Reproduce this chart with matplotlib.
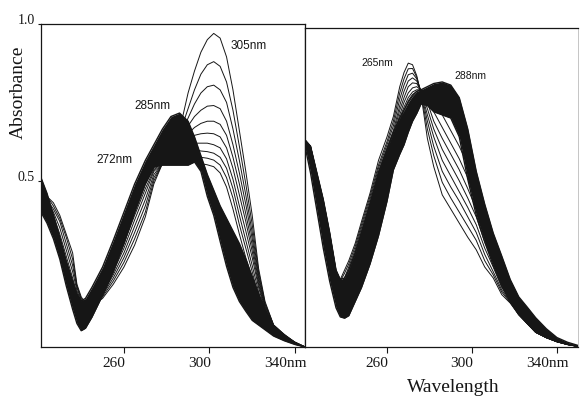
import matplotlib
matplotlib.use("Agg")
import matplotlib.pyplot as plt
from matplotlib.transforms import ScaledTranslation

# --- left panel: wavelength grid, dense band envelope and the fan of spectra
WL_L = [221.2, 224, 227, 230, 233, 236, 238, 240, 242, 245, 250, 255, 260, 265, 270, 274, 278, 282,
        286, 290, 293, 296, 299, 302, 305, 308, 311, 314, 317, 320, 323, 326, 330, 335, 340, 344.7]
BAND_HI_L = [0.51, 0.46, 0.39, 0.32, 0.245, 0.18, 0.14, 0.117, 0.125, 0.16, 0.225, 0.31, 0.40, 0.49, 0.565,
             0.615, 0.665, 0.705, 0.716, 0.69, 0.64, 0.58, 0.52, 0.47, 0.42, 0.38, 0.34, 0.30, 0.25, 0.195,
             0.14, 0.09, 0.035, 0.005, -0.015, -0.03]
BAND_LO_L = [0.40, 0.365, 0.315, 0.25, 0.165, 0.09, 0.045, 0.022, 0.03, 0.065, 0.135, 0.21, 0.30, 0.40, 0.49,
             0.545, 0.55, 0.55, 0.55, 0.55, 0.56, 0.53, 0.45, 0.39, 0.307, 0.227, 0.16, 0.115, 0.084, 0.055,
             0.04, 0.025, 0.005, -0.01, -0.022, -0.03]
FAN_L = [
    [0.48, 0.45, 0.43, 0.39, 0.33, 0.27, 0.17, 0.13, 0.11, 0.10, 0.125, 0.17, 0.225, 0.295, 0.385, 0.49, 0.555, 0.565,
     0.66, 0.78, 0.85, 0.91, 0.95, 0.97, 0.955, 0.895, 0.79, 0.66, 0.53, 0.39, 0.22, 0.115, 0.04, 0.01, -0.015, -0.03],
    [0.48, 0.45, 0.42, 0.38, 0.32, 0.25, 0.165, 0.125, 0.105, 0.10, 0.13, 0.18, 0.24, 0.315, 0.40, 0.50, 0.555, 0.565,
     0.65, 0.73, 0.79, 0.84, 0.87, 0.88, 0.865, 0.815, 0.725, 0.61, 0.49, 0.36, 0.21, 0.11, 0.04, 0.01, -0.015, -0.03],
    [0.47, 0.44, 0.41, 0.37, 0.30, 0.23, 0.16, 0.12, 0.10, 0.10, 0.135, 0.19, 0.255, 0.335, 0.42, 0.51, 0.555, 0.565,
     0.64, 0.70, 0.745, 0.78, 0.80, 0.805, 0.79, 0.75, 0.665, 0.565, 0.455, 0.335, 0.20, 0.105, 0.04, 0.008, -0.015, -0.03],
    [0.47, 0.44, 0.40, 0.35, 0.28, 0.21, 0.15, 0.115, 0.10, 0.10, 0.14, 0.20, 0.27, 0.355, 0.44, 0.52, 0.555, 0.57,
     0.63, 0.675, 0.705, 0.725, 0.738, 0.74, 0.73, 0.69, 0.615, 0.525, 0.425, 0.315, 0.19, 0.10, 0.038, 0.006, -0.016, -0.03],
    [0.46, 0.43, 0.39, 0.33, 0.26, 0.19, 0.14, 0.11, 0.10, 0.105, 0.15, 0.21, 0.285, 0.375, 0.46, 0.53, 0.555, 0.57,
     0.62, 0.65, 0.67, 0.683, 0.69, 0.69, 0.68, 0.645, 0.575, 0.49, 0.395, 0.295, 0.18, 0.095, 0.035, 0.004, -0.017, -0.03],
    [0.46, 0.42, 0.37, 0.31, 0.24, 0.17, 0.125, 0.105, 0.10, 0.11, 0.16, 0.225, 0.30, 0.39, 0.475, 0.535, 0.56, 0.575,
     0.615, 0.635, 0.645, 0.65, 0.652, 0.65, 0.64, 0.605, 0.54, 0.455, 0.37, 0.275, 0.17, 0.09, 0.032, 0.002, -0.018, -0.03],
    [0.45, 0.41, 0.36, 0.29, 0.22, 0.15, 0.11, 0.095, 0.095, 0.115, 0.17, 0.24, 0.32, 0.41, 0.49, 0.54, 0.56, 0.58,
     0.61, 0.62, 0.62, 0.62, 0.62, 0.615, 0.605, 0.57, 0.505, 0.42, 0.34, 0.255, 0.16, 0.085, 0.03, 0.0, -0.018, -0.03],
    [0.45, 0.40, 0.35, 0.28, 0.20, 0.13, 0.09, 0.075, 0.08, 0.11, 0.175, 0.25, 0.335, 0.425, 0.50, 0.545, 0.565, 0.585,
     0.605, 0.605, 0.60, 0.595, 0.593, 0.588, 0.575, 0.54, 0.475, 0.39, 0.31, 0.23, 0.145, 0.075, 0.028, 0.0, -0.019, -0.03],
    [0.44, 0.39, 0.34, 0.27, 0.19, 0.115, 0.075, 0.06, 0.065, 0.10, 0.175, 0.255, 0.345, 0.435, 0.51, 0.55, 0.57, 0.59,
     0.60, 0.59, 0.58, 0.575, 0.572, 0.566, 0.55, 0.51, 0.445, 0.36, 0.285, 0.21, 0.13, 0.068, 0.025, -0.002, -0.02, -0.03],
    [0.44, 0.38, 0.33, 0.26, 0.18, 0.105, 0.065, 0.05, 0.055, 0.09, 0.17, 0.255, 0.35, 0.44, 0.515, 0.555, 0.575, 0.595,
     0.595, 0.58, 0.565, 0.555, 0.551, 0.545, 0.525, 0.48, 0.41, 0.33, 0.255, 0.19, 0.12, 0.06, 0.023, -0.004, -0.02, -0.03],
]

# --- right panel
WL_R = [221.4, 224, 227, 230, 233, 236, 238, 240, 242, 245, 248, 252, 256, 260, 263, 266, 268, 270, 272, 274,
        276, 279, 282, 286, 290, 294, 298, 302, 306, 310, 314, 318, 322, 326, 330, 335, 340, 345, 349.9]
BAND_HI_R = [0.63, 0.61, 0.525, 0.44, 0.335, 0.215, 0.185, 0.19, 0.215, 0.27, 0.335, 0.425, 0.525, 0.60, 0.655,
             0.70, 0.725, 0.75, 0.77, 0.785, 0.79, 0.80, 0.81, 0.815, 0.805, 0.765, 0.665, 0.53, 0.425, 0.333,
             0.26, 0.185, 0.13, 0.097, 0.063, 0.028, 0.0, -0.015, -0.025]
BAND_LO_R = [0.61, 0.525, 0.405, 0.285, 0.18, 0.095, 0.066, 0.062, 0.07, 0.115, 0.16, 0.235, 0.325, 0.435, 0.535,
             0.585, 0.615, 0.655, 0.69, 0.715, 0.745, 0.74, 0.72, 0.71, 0.70, 0.64, 0.505, 0.39, 0.305, 0.23,
             0.165, 0.115, 0.073, 0.045, 0.017, 0.0, -0.013, -0.022, -0.028]
FAN_R = [
    [0.63, 0.61, 0.525, 0.44, 0.335, 0.215, 0.185, 0.215, 0.245, 0.30, 0.37, 0.46, 0.565, 0.64, 0.705, 0.80, 0.845,
     0.875, 0.87, 0.835, 0.775, 0.635, 0.545, 0.455, 0.41, 0.365, 0.32, 0.28, 0.225, 0.19, 0.137, 0.11, 0.073,
     0.045, 0.017, 0.0, -0.013, -0.022, -0.028],
    [0.63, 0.61, 0.52, 0.435, 0.33, 0.21, 0.18, 0.205, 0.235, 0.29, 0.36, 0.45, 0.55, 0.625, 0.69, 0.78, 0.825,
     0.857, 0.858, 0.83, 0.78, 0.665, 0.58, 0.495, 0.445, 0.40, 0.355, 0.31, 0.245, 0.20, 0.145, 0.112, 0.074,
     0.045, 0.017, 0.0, -0.013, -0.022, -0.028],
    [0.63, 0.61, 0.515, 0.43, 0.32, 0.20, 0.17, 0.19, 0.225, 0.28, 0.35, 0.44, 0.54, 0.615, 0.675, 0.76, 0.805,
     0.838, 0.843, 0.825, 0.785, 0.69, 0.61, 0.53, 0.48, 0.435, 0.385, 0.335, 0.265, 0.21, 0.152, 0.114, 0.075,
     0.045, 0.017, 0.0, -0.013, -0.022, -0.028],
    [0.63, 0.60, 0.51, 0.42, 0.31, 0.19, 0.16, 0.18, 0.215, 0.27, 0.34, 0.43, 0.53, 0.605, 0.66, 0.74, 0.785,
     0.818, 0.828, 0.818, 0.787, 0.71, 0.64, 0.565, 0.515, 0.465, 0.415, 0.36, 0.285, 0.225, 0.16, 0.117, 0.076,
     0.045, 0.017, 0.0, -0.013, -0.022, -0.028],
    [0.62, 0.60, 0.505, 0.41, 0.30, 0.18, 0.15, 0.17, 0.205, 0.265, 0.33, 0.425, 0.52, 0.595, 0.65, 0.725, 0.765,
     0.80, 0.812, 0.81, 0.788, 0.73, 0.665, 0.60, 0.55, 0.50, 0.445, 0.385, 0.305, 0.24, 0.17, 0.12, 0.078,
     0.046, 0.017, 0.0, -0.013, -0.022, -0.028],
    [0.62, 0.59, 0.495, 0.40, 0.29, 0.17, 0.135, 0.155, 0.195, 0.255, 0.325, 0.42, 0.515, 0.59, 0.64, 0.71, 0.75,
     0.78, 0.796, 0.80, 0.789, 0.75, 0.69, 0.635, 0.585, 0.535, 0.475, 0.41, 0.325, 0.255, 0.18, 0.125, 0.08,
     0.047, 0.017, 0.0, -0.013, -0.022, -0.028],
    [0.62, 0.58, 0.485, 0.39, 0.28, 0.16, 0.12, 0.14, 0.18, 0.245, 0.32, 0.415, 0.51, 0.585, 0.635, 0.70, 0.735,
     0.765, 0.783, 0.79, 0.79, 0.77, 0.72, 0.67, 0.62, 0.57, 0.51, 0.44, 0.35, 0.27, 0.19, 0.13, 0.085,
     0.05, 0.018, 0.0, -0.013, -0.022, -0.028],
    [0.61, 0.57, 0.475, 0.38, 0.27, 0.15, 0.105, 0.12, 0.165, 0.235, 0.31, 0.41, 0.505, 0.58, 0.63, 0.69, 0.725,
     0.755, 0.775, 0.785, 0.79, 0.785, 0.75, 0.71, 0.66, 0.61, 0.55, 0.47, 0.375, 0.29, 0.205, 0.14, 0.09,
     0.055, 0.02, 0.0, -0.013, -0.022, -0.028],
]

X_TICKS = [260, 300, 340]
X_TICK_LABELS = ["260", "300", "340nm"]
Y_TICKS = [0.5, 1.0]
Y_TICK_LABELS = ["0.5", "1.0"]

PEAKS_L = [("305nm", 318.5, 0.93), ("285nm", 273.2, 0.738), ("272nm", 255.8, 0.566)]
PEAKS_R = [("265nm", 255.3, 0.876), ("288nm", 299.5, 0.834)]

ink = "#161616"
serif = ["Liberation Serif", "DejaVu Serif"]
sans = ["Liberation Sans", "DejaVu Sans"]

fig = plt.figure(figsize=(5.8, 3.98), dpi=100)
ax_l = fig.add_axes([41 / 580, 51 / 398, 264 / 580, 323 / 398])
ax_r = fig.add_axes([305 / 580, 51 / 398, 273 / 580, 319 / 398])

for ax, wl, lo, hi, fan in [(ax_l, WL_L, BAND_LO_L, BAND_HI_L, FAN_L),
                            (ax_r, WL_R, BAND_LO_R, BAND_HI_R, FAN_R)]:
    ax.fill_between(wl, lo, hi, color=ink, lw=0)
    ax.plot(wl, lo, color=ink, lw=1.0)
    ax.plot(wl, hi, color=ink, lw=1.0)
    for curve in fan:
        ax.plot(wl, curve, color=ink, lw=0.7)
    for side in ax.spines.values():
        side.set_linewidth(0.9)
        side.set_color(ink)
    ax.set_xticks(X_TICKS, X_TICK_LABELS, fontfamily=serif, fontsize=11)
    ax.tick_params(axis="x", direction="out", length=4.5, width=0.8, pad=2.5, colors=ink)
    shift = ScaledTranslation(-10 / 100, 0, fig.dpi_scale_trans)
    for lab in ax.get_xticklabels():
        lab.set_transform(lab.get_transform() + shift)

ax_l.set_xlim(221.2, 344.7)
ax_l.set_ylim(-0.03, 1.0)
ax_r.set_xlim(221.4, 349.9)
ax_r.set_ylim(-0.03, 0.987)

ax_l.set_yticks(Y_TICKS, Y_TICK_LABELS, fontfamily=serif, fontsize=10)
ax_l.tick_params(axis="y", direction="out", length=2.5, width=0.8, pad=2, colors=ink)
up = ScaledTranslation(0, 5 / 100, fig.dpi_scale_trans)
for lab in ax_l.get_yticklabels():
    lab.set_transform(lab.get_transform() + up)
ax_r.set_yticks([])
ax_r.spines["right"].set_color("#bbbbbb")
ax_r.spines["right"].set_linewidth(0.6)

for text, x, y in PEAKS_L:
    ax_l.text(x, y, text, ha="center", va="center", fontfamily=sans, fontsize=8.5, color=ink)
for text, x, y in PEAKS_R:
    ax_r.text(x, y, text, ha="center", va="center", fontfamily=sans, fontsize=7.5, color=ink)

fig.text(18 / 580, 1 - 92 / 398, "Absorbance", rotation=90, ha="center", va="center",
         fontfamily=serif, fontsize=14, color=ink)
fig.text(453 / 580, 1 - 387 / 398, "Wavelength", ha="center", va="center",
         fontfamily=serif, fontsize=14, color=ink)

fig.savefig("out.png", dpi=100)
